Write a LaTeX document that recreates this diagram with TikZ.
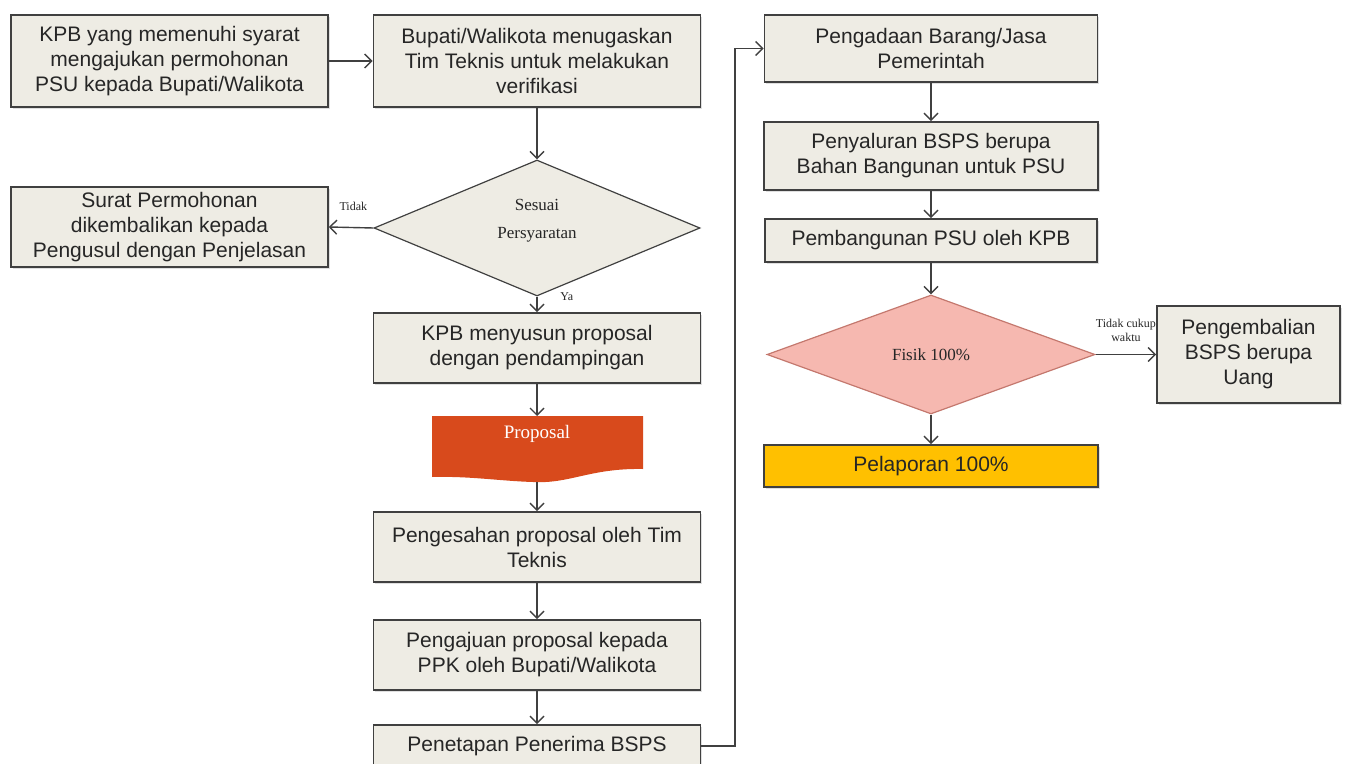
\documentclass[tikz,border=0pt]{standalone}
\usepackage{fontspec}
\setmainfont{Liberation Serif}
\setsansfont{Liberation Sans}
\usetikzlibrary{arrows.meta,shapes.geometric,shadows}
\definecolor{boxfill}{RGB}{238,236,228}
\definecolor{boxdraw}{RGB}{64,64,64}
\definecolor{txt}{RGB}{38,38,38}
\definecolor{pinkfill}{RGB}{246,184,176}
\definecolor{pinkdraw}{RGB}{196,120,110}
\definecolor{docfill}{RGB}{216,74,28}
\definecolor{gold}{RGB}{255,192,0}
\begin{document}
\begin{tikzpicture}[x=0.5pt,y=-0.5pt,
  procbox/.style={draw=boxdraw,fill=boxfill,line width=0.8pt,text=txt,
    font=\sffamily\fontsize{10.5}{12.5}\selectfont,align=center,inner sep=2pt,
    drop shadow={shadow xshift=0.8pt,shadow yshift=-0.8pt,opacity=0.25}},
  decbox/.style={shape=diamond,draw=boxdraw,fill=boxfill,line width=0.6pt,inner sep=0pt,
    font=\rmfamily\fontsize{8.5}{12}\selectfont,text=txt,align=center},
  flow/.style={draw=boxdraw,line width=0.7pt,-{Straight Barb[length=3.5pt,width=7pt]}},
  small/.style={font=\rmfamily\fontsize{6}{7}\selectfont,text=txt,align=center}]
\useasboundingbox (0,0) rectangle (1352,764);

% left / middle column
\node[procbox,minimum width=158.5pt,minimum height=46pt] (b1) at (169.5,61)
  {KPB yang memenuhi syarat\\mengajukan permohonan\\PSU kepada Bupati/Walikota};
\node[procbox,minimum width=163.5pt,minimum height=46pt] (b2) at (537,61)
  {Bupati/Walikota menugaskan\\Tim Teknis untuk melakukan\\verifikasi};
\node[decbox,minimum width=163pt,minimum height=68pt] (d1) at (537,228)
  {};
\node[font=\rmfamily\fontsize{8.5}{14}\selectfont,text=txt,align=center] (d1t) at (537,221)
  {Sesuai\\Persyaratan};
\node[procbox,minimum width=158.5pt,minimum height=40pt] (b3) at (169.5,227)
  {Surat Permohonan\\dikembalikan kepada\\Pengusul dengan Penjelasan};
\node[procbox,minimum width=163.5pt,minimum height=35pt] (b4) at (537,348)
  {KPB menyusun proposal\\dengan pendampingan};
% document shape
\coordinate (docTL) at (432,416);
\coordinate (docTR) at (643,416);
\coordinate (docBR) at (643,469);
\coordinate (docBL) at (432,477);
\fill[docfill] (docTL) -- (docTR) -- (docBR)
  .. controls (590,468) and (570,484) .. (533,482)
  .. controls (500,481) and (470,476) .. (docBL) -- cycle;
\node[font=\rmfamily\fontsize{9.5}{11}\selectfont,text=white] (doc) at (537,434) {Proposal};
\coordinate (docTop) at (537,416);
\coordinate (docBot) at (537,482);
\node[procbox,minimum width=163.5pt,minimum height=35pt] (b5) at (537,547)
  {Pengesahan proposal oleh Tim\\Teknis};
\node[procbox,minimum width=163.5pt,minimum height=35pt] (b6) at (537,655)
  {Pengajuan proposal kepada\\PPK oleh Bupati/Walikota};
\node[procbox,minimum width=163.5pt,minimum height=21pt] (b7) at (537,746)
  {Penetapan Penerima BSPS};

% right column
\node[procbox,minimum width=166.5pt,minimum height=33.5pt] (r1) at (931,48.5)
  {Pengadaan Barang/Jasa\\Pemerintah};
\node[procbox,minimum width=167pt,minimum height=34pt] (r2) at (931,156)
  {Penyaluran BSPS berupa\\Bahan Bangunan untuk PSU};
\node[procbox,minimum width=166pt,minimum height=21.5pt] (r3) at (931,240.5)
  {Pembangunan PSU oleh KPB};
\node[decbox,fill=pinkfill,draw=pinkdraw,minimum width=164pt,minimum height=59.5pt] (d2) at (931,354.5)
  {Fisik 100\%};
\node[procbox,minimum width=91.5pt,minimum height=48.5pt] (r4) at (1248.5,354.5)
  {Pengembalian\\BSPS berupa\\Uang};
\node[procbox,fill=gold,minimum width=167pt,minimum height=21pt] (r5) at (931,466)
  {Pelaporan 100\%};

% connectors
\draw[flow] (b1.east) -- (b2.west);
\draw[flow] (b2.south) -- (d1.north);
\draw[flow] (d1.west) -- node[small,above=5pt,pos=0.45] (lt) {Tidak} (b3.east);
\draw[flow] (d1.south) -- node[small,right=8pt,pos=0.0] (ly) {Ya} (b4.north);
\draw[flow] (b4.south) -- (docTop);
\draw[flow] (docBot) -- (b5.north);
\draw[flow] (b5.south) -- (b6.north);
\draw[flow] (b6.south) -- (b7.north);
\coordinate (bend) at (735,746);
\draw[flow] (b7.east) -- (bend) |- (r1.west);
\draw[flow] (r1.south) -- (r2.north);
\draw[flow] (r2.south) -- (r3.north);
\draw[flow] (r3.south) -- (d2.north);
\draw[flow] (d2.east) -- node[small,above=3pt,pos=0.5] (lw) {Tidak cukup\\waktu} (r4.west);
\draw[flow] (d2.south) -- (r5.north);
\end{tikzpicture}
\end{document}
